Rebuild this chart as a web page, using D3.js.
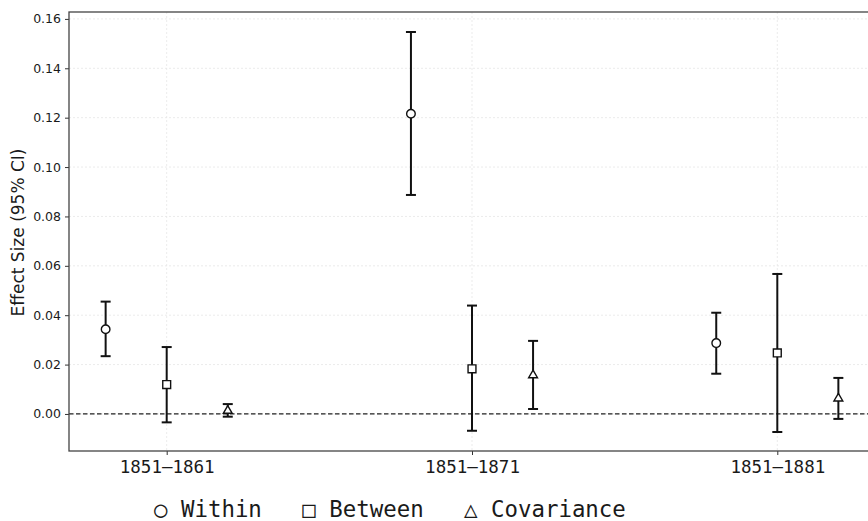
<!DOCTYPE html>
<html>
<head>
<meta charset="utf-8">
<script src="https://cdn.jsdelivr.net/npm/d3@7"></script>
<style>
  body { margin: 0; background: #fff; }
  svg { display: block; }
</style>
</head>
<body>
<script>
// data
var periods = ["1851\u20131861", "1851\u20131871", "1851\u20131881"];
var components = ["Within", "Between", "Covariance"];
var within     = [0.0343, 0.1216, 0.0287];
var withinLo   = [0.0234, 0.0887, 0.0163];
var withinHi   = [0.0455, 0.1547, 0.0410];
var between    = [0.0119, 0.0183, 0.0247];
var betweenLo  = [-0.0034, -0.0068, -0.0073];
var betweenHi  = [0.0271, 0.0439, 0.0567];
var covar      = [0.0013, 0.0157, 0.0063];
var covarLo    = [-0.0011, 0.0020, -0.0020];
var covarHi    = [0.0040, 0.0296, 0.0146];
var yTicks = [0.00, 0.02, 0.04, 0.06, 0.08, 0.10, 0.12, 0.14, 0.16];

var W = 868, H = 521;
var margin = {top: 12, right: -7, bottom: 70, left: 69},
    width = W - margin.left - margin.right,
    height = H - margin.top - margin.bottom;

var svg = d3.select("body")
  .append("svg")
    .attr("width", W)
    .attr("height", H);

var g = svg.append("g")
    .attr("transform", "translate(" + margin.left + "," + margin.top + ")");

var x = d3.scaleLinear().domain([-0.32, 2.32]).range([0, width]);
var y = d3.scaleLinear().domain([-0.015, 0.1628]).range([height, 0]);

var offsets = [-0.2, 0, 0.2];
var series = [
  {name: "Within", v: within, lo: withinLo, hi: withinHi, shape: d3.symbolCircle, size: 58},
  {name: "Between", v: between, lo: betweenLo, hi: betweenHi, shape: d3.symbolSquare, size: 62},
  {name: "Covariance", v: covar, lo: covarLo, hi: covarHi, shape: d3.symbolTriangle, size: 34}
];

// grid
g.append("g").selectAll("line.hg")
  .data(yTicks).enter().append("line")
    .attr("x1", 0).attr("x2", width)
    .attr("y1", function(d) { return y(d); }).attr("y2", function(d) { return y(d); })
    .attr("stroke", "#e6e6e6").attr("stroke-width", 0.8).attr("stroke-dasharray", "2,2");
g.append("g").selectAll("line.vg")
  .data(periods).enter().append("line")
    .attr("y1", 0).attr("y2", height)
    .attr("x1", function(d, i) { return x(i); }).attr("x2", function(d, i) { return x(i); })
    .attr("stroke", "#e6e6e6").attr("stroke-width", 0.8).attr("stroke-dasharray", "2,2");

// zero line
g.append("line")
  .attr("x1", 0).attr("x2", width)
  .attr("y1", y(0)).attr("y2", y(0))
  .attr("stroke", "#222").attr("stroke-width", 1.2).attr("stroke-dasharray", "4.5,2.5");

// axes
var yAxis = g.append("g")
  .call(d3.axisLeft(y).tickValues(yTicks).tickFormat(d3.format(".2f")).tickSize(4).tickPadding(4));
yAxis.selectAll("text").attr("font-family", "DejaVu Sans").attr("font-size", 12.5).attr("fill", "#1a1a1a");

var xAxis = g.append("g")
  .attr("transform", "translate(0," + height + ")")
  .call(d3.axisBottom(x).tickValues([0, 1, 2]).tickFormat(function(d) { return periods[d]; }).tickSize(4).tickPadding(6));
xAxis.selectAll("text").attr("font-family", "DejaVu Sans Mono").attr("font-size", 17.5).attr("fill", "#1a1a1a");

g.selectAll(".domain").remove();
g.selectAll(".tick line").attr("stroke", "#333").attr("stroke-width", 1);

// frame
g.append("rect")
  .attr("x", 0).attr("y", 0).attr("width", width).attr("height", height)
  .attr("fill", "none").attr("stroke", "#444").attr("stroke-width", 1.3);

// error bars and markers
series.forEach(function(s, k) {
  var grp = g.append("g");
  var cap = 5;
  var px = function(i) { return x(i + offsets[k]); };
  grp.selectAll("line.bar").data(s.v).enter().append("line")
    .attr("x1", function(d, i) { return px(i); }).attr("x2", function(d, i) { return px(i); })
    .attr("y1", function(d, i) { return y(s.lo[i]); }).attr("y2", function(d, i) { return y(s.hi[i]); })
    .attr("stroke", "#111").attr("stroke-width", 2);
  grp.selectAll("line.capHi").data(s.v).enter().append("line")
    .attr("x1", function(d, i) { return px(i) - cap; }).attr("x2", function(d, i) { return px(i) + cap; })
    .attr("y1", function(d, i) { return y(s.hi[i]); }).attr("y2", function(d, i) { return y(s.hi[i]); })
    .attr("stroke", "#111").attr("stroke-width", 2);
  grp.selectAll("line.capLo").data(s.v).enter().append("line")
    .attr("x1", function(d, i) { return px(i) - cap; }).attr("x2", function(d, i) { return px(i) + cap; })
    .attr("y1", function(d, i) { return y(s.lo[i]); }).attr("y2", function(d, i) { return y(s.lo[i]); })
    .attr("stroke", "#111").attr("stroke-width", 2);
  grp.selectAll("path.mk").data(s.v).enter().append("path")
    .attr("d", d3.symbol().type(s.shape).size(s.size))
    .attr("transform", function(d, i) { return "translate(" + px(i) + "," + y(d) + ")"; })
    .attr("fill", "#fff").attr("stroke", "#111").attr("stroke-width", 1.4);
});

// y label
svg.append("text")
  .attr("transform", "translate(24," + (margin.top + y(0.0735)) + ") rotate(-90)")
  .attr("text-anchor", "middle")
  .attr("font-family", "DejaVu Sans").attr("font-size", 17).attr("fill", "#1a1a1a")
  .text("Effect Size (95% CI)");

// legend
var legendSymbols = ["\u25CB", "\u25A1", "\u25B3"];
var legendText = components.map(function(c, i) { return legendSymbols[i] + " " + c; }).join("   ");
svg.append("text")
  .attr("x", 154).attr("y", 517)
  .attr("font-family", "DejaVu Sans Mono").attr("font-size", 22.4).attr("fill", "#1a1a1a")
  .style("white-space", "pre")
  .text(legendText);
</script>
</body>
</html>
